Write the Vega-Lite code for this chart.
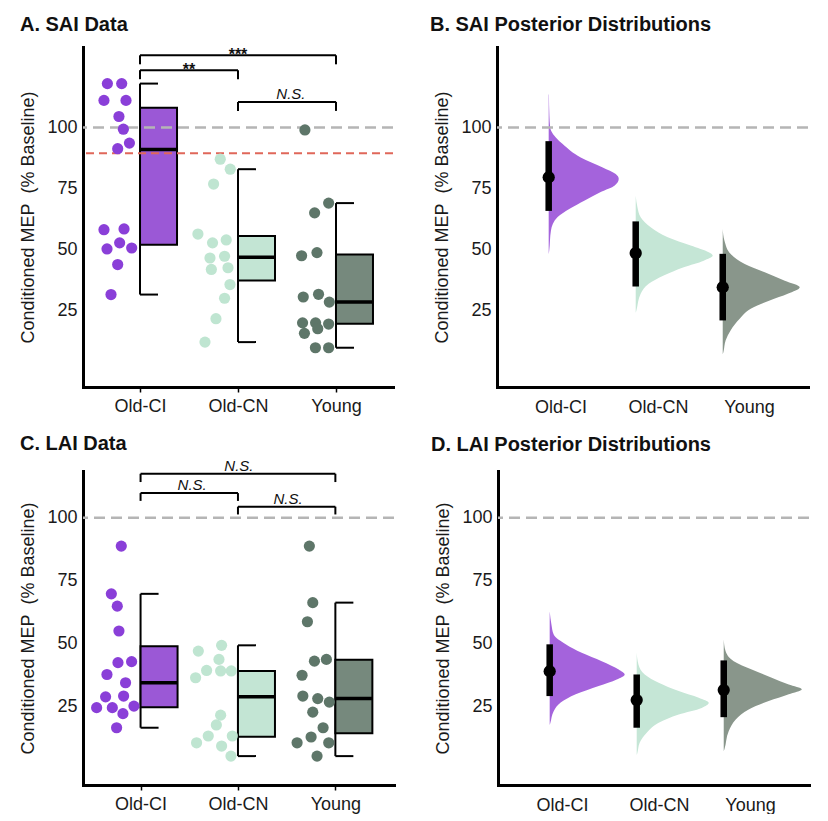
{
  "$schema": "https://vega.github.io/schema/vega-lite/v6.json",
  "padding": {"left": 19, "top": 15, "right": 0, "bottom": 0},
  "background": "white",
  "config": {
    "font": "Liberation Sans",
    "view": {"stroke": null},
    "axis": {
      "grid": false, "domainColor": "black", "domainWidth": 3, "domainCap": "square",
      "labelFont": "Liberation Sans", "labelFontSize": 18, "labelColor": "#1a1a1a",
      "titleFont": "Liberation Sans", "titleFontSize": 18, "titleFontWeight": "normal", "titleColor": "#1a1a1a",
      "ticks": false
    },
    "title": {"font": "Liberation Sans", "fontSize": 20, "fontWeight": "bold", "color": "#111", "anchor": "start", "frame": "bounds", "baseline": "alphabetic"}
  },
  "datasets": {
    "saiDots": [
      {"group": "Old-CI", "pos": 0.667, "mep": 118.0}, {"group": "Old-CI", "pos": 0.813, "mep": 118.0},
      {"group": "Old-CI", "pos": 0.632, "mep": 111.1}, {"group": "Old-CI", "pos": 0.857, "mep": 111.1},
      {"group": "Old-CI", "pos": 0.785, "mep": 104.5}, {"group": "Old-CI", "pos": 0.83, "mep": 99.3},
      {"group": "Old-CI", "pos": 0.892, "mep": 93.6}, {"group": "Old-CI", "pos": 0.772, "mep": 91.3},
      {"group": "Old-CI", "pos": 0.632, "mep": 58.1}, {"group": "Old-CI", "pos": 0.837, "mep": 58.4},
      {"group": "Old-CI", "pos": 0.792, "mep": 52.7}, {"group": "Old-CI", "pos": 0.663, "mep": 50.2},
      {"group": "Old-CI", "pos": 0.915, "mep": 50.6}, {"group": "Old-CI", "pos": 0.772, "mep": 43.8},
      {"group": "Old-CI", "pos": 0.704, "mep": 31.5},
      {"group": "Old-CN", "pos": 1.819, "mep": 87.0}, {"group": "Old-CN", "pos": 1.921, "mep": 82.9},
      {"group": "Old-CN", "pos": 1.751, "mep": 76.8}, {"group": "Old-CN", "pos": 1.591, "mep": 56.3},
      {"group": "Old-CN", "pos": 1.74, "mep": 52.7}, {"group": "Old-CN", "pos": 1.88, "mep": 53.9},
      {"group": "Old-CN", "pos": 1.714, "mep": 46.5}, {"group": "Old-CN", "pos": 1.863, "mep": 47.2},
      {"group": "Old-CN", "pos": 1.728, "mep": 41.8}, {"group": "Old-CN", "pos": 1.898, "mep": 42.5},
      {"group": "Old-CN", "pos": 1.918, "mep": 35.6}, {"group": "Old-CN", "pos": 1.863, "mep": 30.0},
      {"group": "Old-CN", "pos": 1.775, "mep": 21.6}, {"group": "Old-CN", "pos": 1.663, "mep": 12.0},
      {"group": "Young", "pos": 2.683, "mep": 99.0}, {"group": "Young", "pos": 2.925, "mep": 69.0},
      {"group": "Young", "pos": 2.782, "mep": 65.0}, {"group": "Young", "pos": 2.649, "mep": 47.4},
      {"group": "Young", "pos": 2.806, "mep": 48.7}, {"group": "Young", "pos": 2.666, "mep": 30.5},
      {"group": "Young", "pos": 2.822, "mep": 31.6}, {"group": "Young", "pos": 2.932, "mep": 28.4},
      {"group": "Young", "pos": 2.659, "mep": 19.9}, {"group": "Young", "pos": 2.792, "mep": 19.9},
      {"group": "Young", "pos": 2.925, "mep": 19.4}, {"group": "Young", "pos": 2.814, "mep": 17.5},
      {"group": "Young", "pos": 2.678, "mep": 15.6}, {"group": "Young", "pos": 2.79, "mep": 9.7},
      {"group": "Young", "pos": 2.925, "mep": 9.7}
    ],
    "saiBox": [
      {"group": "Old-CI", "pos": 1, "lo": 31.5, "q1": 51.9, "med": 91.0, "q3": 108.1, "hi": 118.0},
      {"group": "Old-CN", "pos": 2, "lo": 12.0, "q1": 37.3, "med": 46.8, "q3": 55.5, "hi": 82.9},
      {"group": "Young", "pos": 3, "lo": 9.7, "q1": 19.5, "med": 28.4, "q3": 47.9, "hi": 69.0}
    ],
    "saiBrackets": [
      {"from": 1, "to": 2, "y": 123.5, "tip": 119.8, "label": "**", "mid": 1.5},
      {"from": 1, "to": 3, "y": 129.6, "tip": 125.9, "label": "***", "mid": 2.0},
      {"from": 2, "to": 3, "y": 110.5, "tip": 106.8, "label": "N.S.", "mid": 2.54}
    ],
    "laiDots": [
      {"group": "Old-CI", "pos": 0.802, "mep": 88.7}, {"group": "Old-CI", "pos": 0.7, "mep": 69.7},
      {"group": "Old-CI", "pos": 0.761, "mep": 64.8}, {"group": "Old-CI", "pos": 0.778, "mep": 54.9},
      {"group": "Old-CI", "pos": 0.768, "mep": 42.3}, {"group": "Old-CI", "pos": 0.908, "mep": 42.7},
      {"group": "Old-CI", "pos": 0.655, "mep": 37.6}, {"group": "Old-CI", "pos": 0.846, "mep": 34.3},
      {"group": "Old-CI", "pos": 0.641, "mep": 28.7}, {"group": "Old-CI", "pos": 0.826, "mep": 29.0},
      {"group": "Old-CI", "pos": 0.549, "mep": 24.4}, {"group": "Old-CI", "pos": 0.71, "mep": 24.4},
      {"group": "Old-CI", "pos": 0.932, "mep": 25.0}, {"group": "Old-CI", "pos": 0.819, "mep": 22.0},
      {"group": "Old-CI", "pos": 0.754, "mep": 16.4},
      {"group": "Old-CN", "pos": 1.832, "mep": 49.2}, {"group": "Old-CN", "pos": 1.593, "mep": 46.9},
      {"group": "Old-CN", "pos": 1.805, "mep": 43.6}, {"group": "Old-CN", "pos": 1.678, "mep": 39.2},
      {"group": "Old-CN", "pos": 1.822, "mep": 39.0}, {"group": "Old-CN", "pos": 1.931, "mep": 39.0},
      {"group": "Old-CN", "pos": 1.565, "mep": 36.3}, {"group": "Old-CN", "pos": 1.822, "mep": 21.4},
      {"group": "Old-CN", "pos": 1.778, "mep": 17.5}, {"group": "Old-CN", "pos": 1.695, "mep": 13.1},
      {"group": "Old-CN", "pos": 1.575, "mep": 10.4}, {"group": "Old-CN", "pos": 1.942, "mep": 13.1},
      {"group": "Old-CN", "pos": 1.832, "mep": 9.1}, {"group": "Old-CN", "pos": 1.928, "mep": 5.1},
      {"group": "Young", "pos": 2.733, "mep": 88.7}, {"group": "Young", "pos": 2.768, "mep": 66.2},
      {"group": "Young", "pos": 2.713, "mep": 58.6}, {"group": "Young", "pos": 2.785, "mep": 42.9},
      {"group": "Young", "pos": 2.908, "mep": 43.6}, {"group": "Young", "pos": 2.658, "mep": 37.3},
      {"group": "Young", "pos": 2.666, "mep": 29.0}, {"group": "Young", "pos": 2.819, "mep": 28.0},
      {"group": "Young", "pos": 2.938, "mep": 26.6}, {"group": "Young", "pos": 2.768, "mep": 22.6},
      {"group": "Young", "pos": 2.874, "mep": 16.4}, {"group": "Young", "pos": 2.607, "mep": 10.4},
      {"group": "Young", "pos": 2.751, "mep": 12.7}, {"group": "Young", "pos": 2.932, "mep": 10.4},
      {"group": "Young", "pos": 2.812, "mep": 5.1}
    ],
    "laiBox": [
      {"group": "Old-CI", "pos": 1, "lo": 16.4, "q1": 24.6, "med": 34.3, "q3": 48.8, "hi": 69.7},
      {"group": "Old-CN", "pos": 2, "lo": 5.1, "q1": 12.8, "med": 28.7, "q3": 39.0, "hi": 49.2},
      {"group": "Young", "pos": 3, "lo": 5.1, "q1": 14.2, "med": 28.0, "q3": 43.5, "hi": 66.2}
    ],
    "laiBrackets": [
      {"from": 1, "to": 3, "y": 117.5, "tip": 114.2, "label": "N.S.", "mid": 2.01},
      {"from": 1, "to": 2, "y": 109.8, "tip": 106.7, "label": "N.S.", "mid": 1.53},
      {"from": 2, "to": 3, "y": 104.4, "tip": 101.3, "label": "N.S.", "mid": 2.515}
    ],
    "saiPost": [
      {"group": "Old-CI", "pos": 1, "mep": 113.5, "edge": 1.003}, {"group": "Old-CI", "pos": 1, "mep": 105, "edge": 1.008},
      {"group": "Old-CI", "pos": 1, "mep": 100, "edge": 1.017}, {"group": "Old-CI", "pos": 1, "mep": 98.6, "edge": 1.029},
      {"group": "Old-CI", "pos": 1, "mep": 93.2, "edge": 1.161}, {"group": "Old-CI", "pos": 1, "mep": 87.7, "edge": 1.368},
      {"group": "Old-CI", "pos": 1, "mep": 83.6, "edge": 1.621}, {"group": "Old-CI", "pos": 1, "mep": 80.9, "edge": 1.77},
      {"group": "Old-CI", "pos": 1, "mep": 79.0, "edge": 1.805}, {"group": "Old-CI", "pos": 1, "mep": 76.2, "edge": 1.759},
      {"group": "Old-CI", "pos": 1, "mep": 73.5, "edge": 1.598}, {"group": "Old-CI", "pos": 1, "mep": 70.1, "edge": 1.414},
      {"group": "Old-CI", "pos": 1, "mep": 66.7, "edge": 1.241}, {"group": "Old-CI", "pos": 1, "mep": 63.3, "edge": 1.103},
      {"group": "Old-CI", "pos": 1, "mep": 57.8, "edge": 1.026}, {"group": "Old-CI", "pos": 1, "mep": 49.5, "edge": 1.006},
      {"group": "Old-CI", "pos": 1, "mep": 48.0, "edge": 1.0},
      {"group": "Old-CN", "pos": 2, "mep": 72.0, "edge": 2.0}, {"group": "Old-CN", "pos": 2, "mep": 67.3, "edge": 2.02},
      {"group": "Old-CN", "pos": 2, "mep": 63.2, "edge": 2.057}, {"group": "Old-CN", "pos": 2, "mep": 59.1, "edge": 2.172},
      {"group": "Old-CN", "pos": 2, "mep": 55.0, "edge": 2.368}, {"group": "Old-CN", "pos": 2, "mep": 51.6, "edge": 2.632},
      {"group": "Old-CN", "pos": 2, "mep": 48.8, "edge": 2.839}, {"group": "Old-CN", "pos": 2, "mep": 47.5, "edge": 2.885},
      {"group": "Old-CN", "pos": 2, "mep": 45.4, "edge": 2.782}, {"group": "Old-CN", "pos": 2, "mep": 42.7, "edge": 2.552},
      {"group": "Old-CN", "pos": 2, "mep": 39.3, "edge": 2.322}, {"group": "Old-CN", "pos": 2, "mep": 35.9, "edge": 2.149},
      {"group": "Old-CN", "pos": 2, "mep": 31.8, "edge": 2.057}, {"group": "Old-CN", "pos": 2, "mep": 25.0, "edge": 2.008},
      {"group": "Old-CN", "pos": 2, "mep": 24.0, "edge": 2.0},
      {"group": "Young", "pos": 3, "mep": 58.4, "edge": 3.0}, {"group": "Young", "pos": 3, "mep": 53.6, "edge": 3.02},
      {"group": "Young", "pos": 3, "mep": 48.1, "edge": 3.092}, {"group": "Young", "pos": 3, "mep": 44.0, "edge": 3.253},
      {"group": "Young", "pos": 3, "mep": 40.6, "edge": 3.483}, {"group": "Young", "pos": 3, "mep": 37.2, "edge": 3.713},
      {"group": "Young", "pos": 3, "mep": 34.5, "edge": 3.885}, {"group": "Young", "pos": 3, "mep": 31.8, "edge": 3.747},
      {"group": "Young", "pos": 3, "mep": 29.1, "edge": 3.54}, {"group": "Young", "pos": 3, "mep": 25.7, "edge": 3.322},
      {"group": "Young", "pos": 3, "mep": 21.6, "edge": 3.195}, {"group": "Young", "pos": 3, "mep": 16.9, "edge": 3.092},
      {"group": "Young", "pos": 3, "mep": 12.8, "edge": 3.034}, {"group": "Young", "pos": 3, "mep": 8.0, "edge": 3.008},
      {"group": "Young", "pos": 3, "mep": 7.0, "edge": 3.0}
    ],
    "saiEst": [
      {"group": "Old-CI", "pos": 1, "est": 79.6, "lo": 65.8, "hi": 94.4},
      {"group": "Old-CN", "pos": 2, "est": 48.5, "lo": 34.8, "hi": 61.5},
      {"group": "Young", "pos": 3, "est": 34.5, "lo": 20.9, "hi": 48.2}
    ],
    "laiPost": [
      {"group": "Old-CI", "pos": 1, "mep": 62.8, "edge": 1.0}, {"group": "Old-CI", "pos": 1, "mep": 57.5, "edge": 1.02},
      {"group": "Old-CI", "pos": 1, "mep": 53.5, "edge": 1.046}, {"group": "Old-CI", "pos": 1, "mep": 49.6, "edge": 1.184},
      {"group": "Old-CI", "pos": 1, "mep": 46.2, "edge": 1.368}, {"group": "Old-CI", "pos": 1, "mep": 42.9, "edge": 1.598},
      {"group": "Old-CI", "pos": 1, "mep": 39.6, "edge": 1.793}, {"group": "Old-CI", "pos": 1, "mep": 37.6, "edge": 1.862},
      {"group": "Old-CI", "pos": 1, "mep": 35.6, "edge": 1.77}, {"group": "Old-CI", "pos": 1, "mep": 33.0, "edge": 1.563},
      {"group": "Old-CI", "pos": 1, "mep": 29.7, "edge": 1.299}, {"group": "Old-CI", "pos": 1, "mep": 26.4, "edge": 1.126},
      {"group": "Old-CI", "pos": 1, "mep": 23.0, "edge": 1.046}, {"group": "Old-CI", "pos": 1, "mep": 18.4, "edge": 1.008},
      {"group": "Old-CI", "pos": 1, "mep": 17.5, "edge": 1.0},
      {"group": "Old-CN", "pos": 2, "mep": 46.3, "edge": 2.0}, {"group": "Old-CN", "pos": 2, "mep": 41.6, "edge": 2.02},
      {"group": "Old-CN", "pos": 2, "mep": 37.6, "edge": 2.092}, {"group": "Old-CN", "pos": 2, "mep": 34.3, "edge": 2.253},
      {"group": "Old-CN", "pos": 2, "mep": 31.0, "edge": 2.483}, {"group": "Old-CN", "pos": 2, "mep": 28.3, "edge": 2.713},
      {"group": "Old-CN", "pos": 2, "mep": 26.3, "edge": 2.828}, {"group": "Old-CN", "pos": 2, "mep": 24.3, "edge": 2.747},
      {"group": "Old-CN", "pos": 2, "mep": 21.7, "edge": 2.483}, {"group": "Old-CN", "pos": 2, "mep": 18.4, "edge": 2.253},
      {"group": "Old-CN", "pos": 2, "mep": 14.4, "edge": 2.115}, {"group": "Old-CN", "pos": 2, "mep": 10.4, "edge": 2.034},
      {"group": "Old-CN", "pos": 2, "mep": 6.4, "edge": 2.008}, {"group": "Old-CN", "pos": 2, "mep": 5.5, "edge": 2.0},
      {"group": "Young", "pos": 3, "mep": 51.6, "edge": 3.0}, {"group": "Young", "pos": 3, "mep": 47.0, "edge": 3.02},
      {"group": "Young", "pos": 3, "mep": 42.9, "edge": 3.115}, {"group": "Young", "pos": 3, "mep": 39.6, "edge": 3.322},
      {"group": "Young", "pos": 3, "mep": 36.3, "edge": 3.552}, {"group": "Young", "pos": 3, "mep": 33.6, "edge": 3.747},
      {"group": "Young", "pos": 3, "mep": 31.7, "edge": 3.897}, {"group": "Young", "pos": 3, "mep": 29.7, "edge": 3.747},
      {"group": "Young", "pos": 3, "mep": 27.0, "edge": 3.517}, {"group": "Young", "pos": 3, "mep": 23.7, "edge": 3.287},
      {"group": "Young", "pos": 3, "mep": 19.7, "edge": 3.138}, {"group": "Young", "pos": 3, "mep": 15.0, "edge": 3.057},
      {"group": "Young", "pos": 3, "mep": 7.8, "edge": 3.008}, {"group": "Young", "pos": 3, "mep": 7.0, "edge": 3.0}
    ],
    "laiEst": [
      {"group": "Old-CI", "pos": 1, "est": 38.9, "lo": 29.0, "hi": 49.6},
      {"group": "Old-CN", "pos": 2, "est": 27.4, "lo": 16.4, "hi": 37.6},
      {"group": "Young", "pos": 3, "est": 31.4, "lo": 20.6, "hi": 43.2}
    ]
  },
  "vconcat": [
    {
      "hconcat": [
        {
          "width": 310, "height": 340,
          "title": {"text": "A. SAI Data", "offset": 12},
          "resolve": {"scale": {"color": "independent"}},
          "layer": [
            {"data": {"name": "saiBox"}, "mark": {"type": "rule", "color": "black", "strokeWidth": 2},
             "encoding": {
               "x": {"field": "pos", "type": "quantitative", "scale": {"domain": [0.418, 3.582], "nice": false, "zero": false},
                     "axis": {"title": null, "values": [1, 2, 3], "labelExpr": "datum.value == 1 ? 'Old-CI' : datum.value == 2 ? 'Old-CN' : 'Young'", "ticks": true, "tickSize": 5, "tickWidth": 1.5, "tickColor": "black", "labelPadding": 5, "labelFlush": false, "labelOverlap": false}},
               "y": {"field": "lo", "type": "quantitative", "scale": {"domain": [-6.4, 133], "nice": false, "zero": false},
                     "axis": {"title": "Conditioned MEP\u00a0 (% Baseline)", "values": [25, 50, 75, 100], "labelPadding": 6, "titlePadding": 9}},
               "y2": {"field": "hi"}}},
            {"data": {"name": "saiBox"}, "mark": {"type": "rule", "color": "black", "strokeWidth": 2, "x2Offset": 18},
             "encoding": {"x": {"field": "pos", "type": "quantitative"}, "x2": {"field": "pos"}, "y": {"field": "lo", "type": "quantitative"}}},
            {"data": {"name": "saiBox"}, "mark": {"type": "rule", "color": "black", "strokeWidth": 2, "x2Offset": 18},
             "encoding": {"x": {"field": "pos", "type": "quantitative"}, "x2": {"field": "pos"}, "y": {"field": "hi", "type": "quantitative"}}},
            {"data": {"name": "saiBox"}, "mark": {"type": "rect", "x2Offset": 37, "stroke": "black", "strokeWidth": 2, "opacity": 1},
             "encoding": {"x": {"field": "pos", "type": "quantitative"}, "x2": {"field": "pos"}, "y": {"field": "q1", "type": "quantitative"}, "y2": {"field": "q3"},
               "color": {"field": "group", "type": "nominal", "scale": {"domain": ["Old-CI", "Old-CN", "Young"], "range": ["#9b58d6", "#c3e5d4", "#76897d"]}, "legend": null}}},
            {"data": {"name": "saiBox"}, "mark": {"type": "rule", "color": "black", "strokeWidth": 3.5, "x2Offset": 37},
             "encoding": {"x": {"field": "pos", "type": "quantitative"}, "x2": {"field": "pos"}, "y": {"field": "med", "type": "quantitative"}}},
            {"data": {"values": [{}]}, "mark": {"type": "rule", "color": "#b5b5b5", "strokeWidth": 2.5, "strokeDash": [11, 6]},
             "encoding": {"y": {"datum": 100, "type": "quantitative"}}},
            {"data": {"values": [{}]}, "mark": {"type": "rule", "color": "#e0675a", "strokeWidth": 2, "strokeDash": [8, 5]},
             "encoding": {"y": {"datum": 89.4, "type": "quantitative"}}},
            {"data": {"name": "saiBrackets"}, "mark": {"type": "rule", "color": "black", "strokeWidth": 2},
             "encoding": {"x": {"field": "from", "type": "quantitative"}, "x2": {"field": "to"}, "y": {"field": "y", "type": "quantitative"}}},
            {"data": {"name": "saiBrackets"}, "mark": {"type": "rule", "color": "black", "strokeWidth": 2},
             "encoding": {"x": {"field": "from", "type": "quantitative"}, "y": {"field": "y", "type": "quantitative"}, "y2": {"field": "tip"}}},
            {"data": {"name": "saiBrackets"}, "mark": {"type": "rule", "color": "black", "strokeWidth": 2},
             "encoding": {"x": {"field": "to", "type": "quantitative"}, "y": {"field": "y", "type": "quantitative"}, "y2": {"field": "tip"}}},
            {"data": {"name": "saiBrackets"}, "transform": [{"filter": {"field": "label", "equal": "N.S."}}],
             "mark": {"type": "text", "fontSize": 15, "fontStyle": "italic", "baseline": "alphabetic", "dy": -3, "color": "#111"},
             "encoding": {"x": {"field": "mid", "type": "quantitative"}, "y": {"field": "y", "type": "quantitative"}, "text": {"field": "label"}}},
            {"data": {"name": "saiBrackets"}, "transform": [{"filter": {"field": "label", "oneOf": ["**", "***"]}}],
             "mark": {"type": "text", "fontSize": 16, "fontWeight": "bold", "baseline": "alphabetic", "dy": 5, "color": "#111"},
             "encoding": {"x": {"field": "mid", "type": "quantitative"}, "y": {"field": "y", "type": "quantitative"}, "text": {"field": "label"}}},
            {"data": {"name": "saiDots"}, "mark": {"type": "circle", "size": 125, "opacity": 1},
             "encoding": {"x": {"field": "pos", "type": "quantitative"}, "y": {"field": "mep", "type": "quantitative"},
               "color": {"field": "group", "type": "nominal", "scale": {"domain": ["Old-CI", "Old-CN", "Young"], "range": ["#8a3fd8", "#bfe5d1", "#5e7669"]}, "legend": null}}}
          ]
        },
        {
          "width": 311, "height": 340,
          "title": {"text": "B. SAI Posterior Distributions", "offset": 12, "dx": -4},
          "layer": [
            {"data": {"name": "saiPost"}, "mark": {"type": "area", "orient": "horizontal", "interpolate": "monotone", "opacity": 1},
             "encoding": {
               "y": {"field": "mep", "type": "quantitative", "scale": {"domain": [-6.4, 133], "nice": false, "zero": false},
                     "axis": {"title": "Conditioned MEP\u00a0 (% Baseline)", "values": [25, 50, 75, 100], "labelPadding": 6, "titlePadding": 9}},
               "x": {"field": "edge", "type": "quantitative", "stack": null, "scale": {"domain": [0.406, 3.98], "nice": false, "zero": false},
                     "axis": {"title": null, "values": [1.135, 2.256, 3.302], "labelExpr": "round(datum.value) == 1 ? 'Old-CI' : round(datum.value) == 2 ? 'Old-CN' : 'Young'", "labelPadding": 11, "labelFlush": false, "labelOverlap": false}},
               "x2": {"field": "pos"},
               "color": {"field": "group", "type": "nominal", "scale": {"domain": ["Old-CI", "Old-CN", "Young"], "range": ["#a463dc", "#c5e6d6", "#89968b"]}, "legend": null}}},
            {"data": {"values": [{}]}, "mark": {"type": "rule", "color": "#b5b5b5", "strokeWidth": 2.5, "strokeDash": [11, 6]},
             "encoding": {"y": {"datum": 100, "type": "quantitative"}}},
            {"data": {"name": "saiEst"}, "mark": {"type": "rule", "color": "black", "strokeWidth": 6.5},
             "encoding": {"x": {"field": "pos", "type": "quantitative"}, "y": {"field": "lo", "type": "quantitative"}, "y2": {"field": "hi"}}},
            {"data": {"name": "saiEst"}, "mark": {"type": "circle", "size": 150, "opacity": 1, "color": "black"},
             "encoding": {"x": {"field": "pos", "type": "quantitative"}, "y": {"field": "est", "type": "quantitative"}}}
          ]
        }
      ],
      "spacing": 34
    },
    {
      "hconcat": [
        {
          "width": 311, "height": 314,
          "title": {"text": "C. LAI Data", "offset": 5},
          "resolve": {"scale": {"color": "independent"}},
          "layer": [
            {"data": {"name": "laiBox"}, "mark": {"type": "rule", "color": "black", "strokeWidth": 2},
             "encoding": {
               "x": {"field": "pos", "type": "quantitative", "scale": {"domain": [0.409, 3.602], "nice": false, "zero": false},
                     "axis": {"title": null, "values": [1, 2, 3], "labelExpr": "datum.value == 1 ? 'Old-CI' : datum.value == 2 ? 'Old-CN' : 'Young'", "ticks": true, "tickSize": 5, "tickWidth": 1.5, "tickColor": "black", "labelPadding": 5, "labelFlush": false, "labelOverlap": false}},
               "y": {"field": "lo", "type": "quantitative", "scale": {"domain": [-6.4, 118.6], "nice": false, "zero": false},
                     "axis": {"title": "Conditioned MEP\u00a0 (% Baseline)", "values": [25, 50, 75, 100], "labelPadding": 6, "titlePadding": 9}},
               "y2": {"field": "hi"}}},
            {"data": {"name": "laiBox"}, "mark": {"type": "rule", "color": "black", "strokeWidth": 2, "x2Offset": 18},
             "encoding": {"x": {"field": "pos", "type": "quantitative"}, "x2": {"field": "pos"}, "y": {"field": "lo", "type": "quantitative"}}},
            {"data": {"name": "laiBox"}, "mark": {"type": "rule", "color": "black", "strokeWidth": 2, "x2Offset": 18},
             "encoding": {"x": {"field": "pos", "type": "quantitative"}, "x2": {"field": "pos"}, "y": {"field": "hi", "type": "quantitative"}}},
            {"data": {"name": "laiBox"}, "mark": {"type": "rect", "x2Offset": 37, "stroke": "black", "strokeWidth": 2, "opacity": 1},
             "encoding": {"x": {"field": "pos", "type": "quantitative"}, "x2": {"field": "pos"}, "y": {"field": "q1", "type": "quantitative"}, "y2": {"field": "q3"},
               "color": {"field": "group", "type": "nominal", "scale": {"domain": ["Old-CI", "Old-CN", "Young"], "range": ["#9b58d6", "#c3e5d4", "#76897d"]}, "legend": null}}},
            {"data": {"name": "laiBox"}, "mark": {"type": "rule", "color": "black", "strokeWidth": 3.5, "x2Offset": 37},
             "encoding": {"x": {"field": "pos", "type": "quantitative"}, "x2": {"field": "pos"}, "y": {"field": "med", "type": "quantitative"}}},
            {"data": {"values": [{}]}, "mark": {"type": "rule", "color": "#b5b5b5", "strokeWidth": 2.5, "strokeDash": [11, 6]},
             "encoding": {"y": {"datum": 100, "type": "quantitative"}}},
            {"data": {"name": "laiBrackets"}, "mark": {"type": "rule", "color": "black", "strokeWidth": 2},
             "encoding": {"x": {"field": "from", "type": "quantitative"}, "x2": {"field": "to"}, "y": {"field": "y", "type": "quantitative"}}},
            {"data": {"name": "laiBrackets"}, "mark": {"type": "rule", "color": "black", "strokeWidth": 2},
             "encoding": {"x": {"field": "from", "type": "quantitative"}, "y": {"field": "y", "type": "quantitative"}, "y2": {"field": "tip"}}},
            {"data": {"name": "laiBrackets"}, "mark": {"type": "rule", "color": "black", "strokeWidth": 2},
             "encoding": {"x": {"field": "to", "type": "quantitative"}, "y": {"field": "y", "type": "quantitative"}, "y2": {"field": "tip"}}},
            {"data": {"name": "laiBrackets"},
             "mark": {"type": "text", "fontSize": 15, "fontStyle": "italic", "baseline": "alphabetic", "dy": -3, "color": "#111"},
             "encoding": {"x": {"field": "mid", "type": "quantitative"}, "y": {"field": "y", "type": "quantitative"}, "text": {"field": "label"}}},
            {"data": {"name": "laiDots"}, "mark": {"type": "circle", "size": 125, "opacity": 1},
             "encoding": {"x": {"field": "pos", "type": "quantitative"}, "y": {"field": "mep", "type": "quantitative"},
               "color": {"field": "group", "type": "nominal", "scale": {"domain": ["Old-CI", "Old-CN", "Young"], "range": ["#8a3fd8", "#bfe5d1", "#5e7669"]}, "legend": null}}}
          ]
        },
        {
          "width": 311, "height": 314,
          "title": {"text": "D. LAI Posterior Distributions", "offset": 16, "dx": -4},
          "layer": [
            {"data": {"name": "laiPost"}, "mark": {"type": "area", "orient": "horizontal", "interpolate": "monotone", "opacity": 1},
             "encoding": {
               "y": {"field": "mep", "type": "quantitative", "scale": {"domain": [-6.4, 118.6], "nice": false, "zero": false},
                     "axis": {"title": "Conditioned MEP\u00a0 (% Baseline)", "values": [25, 50, 75, 100], "labelPadding": 6, "titlePadding": 9}},
               "x": {"field": "edge", "type": "quantitative", "stack": null, "scale": {"domain": [0.406, 3.98], "nice": false, "zero": false},
                     "axis": {"title": null, "values": [1.141, 2.256, 3.302], "labelExpr": "round(datum.value) == 1 ? 'Old-CI' : round(datum.value) == 2 ? 'Old-CN' : 'Young'", "labelPadding": 11, "labelFlush": false, "labelOverlap": false}},
               "x2": {"field": "pos"},
               "color": {"field": "group", "type": "nominal", "scale": {"domain": ["Old-CI", "Old-CN", "Young"], "range": ["#a463dc", "#c5e6d6", "#89968b"]}, "legend": null}}},
            {"data": {"values": [{}]}, "mark": {"type": "rule", "color": "#b5b5b5", "strokeWidth": 2.5, "strokeDash": [11, 6]},
             "encoding": {"y": {"datum": 100, "type": "quantitative"}}},
            {"data": {"name": "laiEst"}, "mark": {"type": "rule", "color": "black", "strokeWidth": 6.5},
             "encoding": {"x": {"field": "pos", "type": "quantitative"}, "y": {"field": "lo", "type": "quantitative"}, "y2": {"field": "hi"}}},
            {"data": {"name": "laiEst"}, "mark": {"type": "circle", "size": 150, "opacity": 1, "color": "black"},
             "encoding": {"x": {"field": "pos", "type": "quantitative"}, "y": {"field": "est", "type": "quantitative"}}}
          ]
        }
      ],
      "spacing": 34
    }
  ],
  "spacing": 17
}
